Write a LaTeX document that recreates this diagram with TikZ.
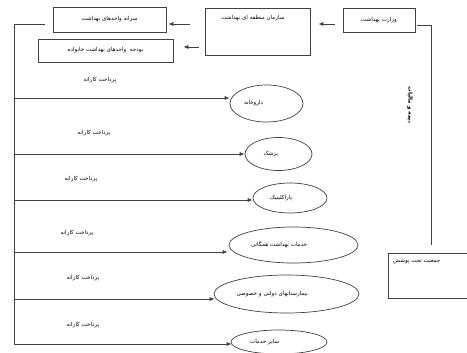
\documentclass[tikz,border=0pt]{standalone}
\usepackage{fontspec}
\newfontfamily\ar[Script=Arabic]{DejaVu Sans}
\TeXXeTstate=1
\usetikzlibrary{arrows.meta,shapes.geometric}
\newcommand{\fa}[1]{\beginR #1\endR}
\begin{document}
\begin{tikzpicture}[x=1pt,y=-1pt,
  every node/.style={font=\ar\fontsize{5.6}{6.5}\selectfont, inner sep=0pt},
  ln/.style={draw=black!75, line width=0.7pt},
  arr/.style={ln, -{Latex[length=5pt,width=4pt]}},
  box/.style={draw=black!75, line width=0.7pt, rectangle},
  ell/.style={draw=black!75, line width=0.7pt, ellipse, align=left}
]
\useasboundingbox (0,0) rectangle (467,353);
% boxes
\node[box, minimum width=113pt, minimum height=25pt] (sarane) at (109.5,19.5) {\fa{سرانه واحدهای بهداشت}};
\node[box, minimum width=135pt, minimum height=23pt] (budje) at (105.5,50.5) {\fa{بودجه\ \ واحدهای بهداشت خانواده}};
\node[box, minimum width=105pt, minimum height=47pt] (sazman) at (257.5,31.5) {};
\node[anchor=north] (sazmanT) at (253,15) {\fa{سازمان منطقه ای بهداشت}};
\node[box, minimum width=72pt, minimum height=24pt] (vezarat) at (379,20) {\fa{وزارت بهداشت}};
\node[box, minimum width=80pt, minimum height=45pt] (jamiat) at (428,275.5) {};
\node[anchor=north west] (jamiatT) at (393,259) {\fa{جمعیت تحت پوشش}};
\node[rotate=-90, font=\ar\bfseries\fontsize{5.6}{6.5}\selectfont] (bime) at (410,105) {\fa{بیمه و مالیات}};
% ellipses
\node[ell, minimum width=73pt, minimum height=37pt, text width=45pt] (e1) at (266.5,103.5) {\fa{داروخانه}};
\node[ell, minimum width=67pt, minimum height=33pt, text width=30pt] (e2) at (278.5,154) {\fa{پزشک}};
\node[ell, minimum width=74pt, minimum height=30pt, text width=40pt] (e3) at (290,198) {\fa{پاراکلینیک}};
\node[ell, minimum width=129pt, minimum height=36pt, text width=85pt] (e4) at (293.5,245) {\fa{خدمات بهداشت همگانی}};
\node[ell, minimum width=145pt, minimum height=38pt, text width=100pt] (e5) at (286.5,294) {\fa{بیمارستانهای دولتی و خصوصی}};
\node[ell, minimum width=96pt, minimum height=24pt, text width=58pt] (e6) at (279,342) {\fa{سایر خدمات}};
% labels
\node (p1) at (100,80) {\fa{پرداخت کارانه}};
\node (p2) at (94,133) {\fa{پرداخت کارانه}};
\node (p3) at (81,179) {\fa{پرداخت کارانه}};
\node (p4) at (77,233) {\fa{پرداخت کارانه}};
\node (p5) at (83,278) {\fa{پرداخت کارانه}};
\node (p6) at (83,325) {\fa{پرداخت کارانه}};
% top arrows
\coordinate (a0) at (335,24);
\draw[arr] (a0) -- ([xshift=8pt]a0 -| sazman.east);
\coordinate (b1) at (190,24);
\draw[arr] (b1) -- ([xshift=2pt]b1 -| sarane.east);
\coordinate (b2) at (199,47);
\draw[arr] (b2) -- ([xshift=10pt]b2 -| budje.east);
% right line
\coordinate (r0) at (417,25);
\coordinate (r1) at (431,25);
\coordinate (r2) at (431,245);
\draw[ln] (r0) -- (r1) -- (r2);
% left trunk
\coordinate (t0) at (45,24);
\coordinate (tc) at (14,24);
\coordinate (tb) at (14,344);
\draw[ln] (t0) -- (tc) -- (tb);
\coordinate (l1) at (14,98);
\coordinate (l2) at (14,154);
\coordinate (l3) at (14,200);
\coordinate (l4) at (14,252);
\coordinate (l5) at (14,299);
\coordinate (l6) at (14,344);
\draw[arr] (l1) -- (l1 -| e1.west);
\draw[arr] (l2) -- (l2 -| e2.west);
\draw[arr] (l3) -- (l3 -| e3.west);
\draw[arr] (l4) -- ([xshift=-1pt]l4 -| e4.west);
\draw[arr] (l5) -- ([xshift=1pt]l5 -| e5.west);
\draw[arr] (l6) -- ([xshift=1pt]l6 -| e6.west);
\end{tikzpicture}
\end{document}
